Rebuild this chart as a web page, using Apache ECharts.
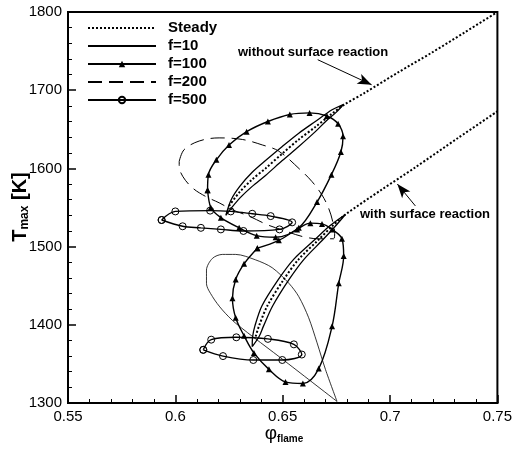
<!DOCTYPE html>
<html><head><meta charset="utf-8">
<script src="https://cdn.jsdelivr.net/npm/echarts@6/dist/echarts.min.js"></script>
<style>html,body{margin:0;padding:0;background:#fff}#c{width:515px;height:450px}</style>
</head><body><div id="c"></div>
<script>
const FONT = 'Liberation Sans, Arial, sans-serif';

// Axis ticks
const xTicks = [0.55, 0.6, 0.65, 0.7, 0.75];
const yTicks = [1300, 1400, 1500, 1600, 1700, 1800];

// Legend entries
const legendNames = ['Steady', 'f=10', 'f=100', 'f=200', 'f=500'];
const legendWithMarker = ['f=100', 'f=500'];

// Steady solutions [phi, Tmax]
const steadyWithout = [[0.6250,1552],[0.6297,1569],[0.6358,1586],[0.6420,1600],[0.6498,1619],[0.6575,1637],[0.6652,1653],[0.6730,1670],[0.6784,1681],[0.6884,1697],[0.7039,1723],[0.7194,1748],[0.7348,1774],[0.7500,1800]];
const steadyWith = [[0.6374,1385],[0.6389,1398],[0.6428,1424],[0.6505,1458],[0.6575,1484],[0.6668,1509],[0.6730,1526],[0.6792,1541],[0.6962,1573],[0.7116,1601],[0.7317,1639],[0.7500,1673]];

// f=10 (narrow hysteresis loops)
const f10Without = [[0.6235,1540],[0.6260,1560],[0.6300,1577],[0.6358,1595],[0.6420,1610],[0.6498,1628],[0.6575,1645],[0.6652,1660],[0.6730,1675],[0.6784,1682],[0.6750,1672],[0.6700,1660],[0.6652,1647],[0.6575,1628],[0.6498,1610],[0.6420,1591],[0.6358,1577],[0.6300,1562],[0.6260,1549],[0.6235,1540]];
const f10With = [[0.6358,1372],[0.6360,1385],[0.6370,1398],[0.6403,1424],[0.6480,1458],[0.6552,1484],[0.6650,1509],[0.6717,1526],[0.6792,1541],[0.6745,1526],[0.6688,1509],[0.6600,1484],[0.6530,1458],[0.6453,1424],[0.6410,1398],[0.6390,1385],[0.6358,1372]];

// f=100
const f100Without = [[0.6150,1572],[0.6154,1592],[0.6191,1611],[0.6250,1630],[0.6332,1647],[0.6431,1660],[0.6533,1669],[0.6625,1671],[0.6706,1667],[0.6758,1657],[0.6781,1641],[0.6771,1621],[0.6727,1592],[0.6660,1557],[0.6575,1524],[0.6467,1512],[0.6379,1514],[0.6297,1524],[0.6212,1537],[0.6165,1550],[0.6150,1572]];
const f100With = [[0.6382,1498],[0.6482,1508],[0.6567,1522],[0.6629,1530],[0.6683,1529],[0.6730,1522],[0.6776,1510],[0.6784,1488],[0.6761,1453],[0.6730,1398],[0.6668,1344],[0.6594,1325],[0.6513,1327],[0.6436,1343],[0.6366,1364],[0.6320,1386],[0.6281,1409],[0.6266,1434],[0.6281,1458],[0.6320,1478],[0.6382,1498]];

// f=200
const f200Without = [[0.6018,1609],[0.6041,1624],[0.6111,1635],[0.6204,1639],[0.6312,1637],[0.6405,1630],[0.6482,1622],[0.6583,1598],[0.6637,1583],[0.6683,1566],[0.6714,1549],[0.6733,1532],[0.6742,1517],[0.6737,1510],[0.6668,1510],[0.6590,1513],[0.6513,1520],[0.6428,1528],[0.6343,1539],[0.6266,1547],[0.6204,1556],[0.6142,1564],[0.6080,1575],[0.6034,1590],[0.6018,1603],[0.6018,1609]];
const f200With = [[0.6753,1302],[0.6513,1353],[0.6281,1402],[0.6219,1419],[0.6173,1436],[0.6145,1453],[0.6145,1470],[0.6173,1485],[0.6219,1490],[0.6281,1490],[0.6374,1483],[0.6451,1473],[0.6529,1453],[0.6575,1436],[0.6621,1409],[0.6660,1377],[0.6699,1343],[0.6753,1302]];

// f=500
const f500Without = [[0.5936,1534],[0.6000,1545],[0.6162,1546],[0.6258,1545],[0.6358,1542],[0.6444,1539],[0.6544,1531],[0.6485,1522],[0.6317,1520],[0.6212,1522],[0.6119,1524],[0.6034,1526],[0.5936,1534]];
const f500With = [[0.6130,1368],[0.6167,1381],[0.6284,1384],[0.6431,1382],[0.6552,1375],[0.6589,1362],[0.6498,1355],[0.6363,1355],[0.6222,1360],[0.6130,1368]];

// Annotations
const annotWithout = {text: 'without surface reaction', from: [0.6663, 1739], to: [0.6914, 1707]};
const annotWith = {text: 'with surface reaction', from: [0.7118, 1552], to: [0.7034, 1580]};

const chart = echarts.init(document.getElementById('c'), null, {renderer: 'canvas'});

function lineSeries(name, data, extra) {
  return Object.assign({
    name: name, type: 'line', data: data, symbol: 'none', smooth: 0.35,
    animation: false, silent: true, clip: true,
    lineStyle: {color: '#000', width: 1.4},
    itemStyle: {color: '#000'}
  }, extra || {});
}

const triStyle = {symbol: 'triangle', symbolSize: 6, showSymbol: true, itemStyle: {color: '#000'}};
const circStyle = {symbol: 'circle', symbolSize: 7, showSymbol: true, itemStyle: {color: 'rgba(255,255,255,0)', borderColor: '#000', borderWidth: 1}};

const series = [
  lineSeries('Steady', steadyWithout, {lineStyle: {color: '#000', width: 2, type: [2, 2]}, smooth: 0.3,
    markLine: {silent: true, symbol: ['none', 'arrow'], symbolSize: [8, 14], label: {show: false},
      lineStyle: {color: '#000', width: 1, type: 'solid'}, animation: false,
      data: [
        [{coord: annotWithout.from}, {coord: annotWithout.to}],
        [{coord: annotWith.from}, {coord: annotWith.to}]
      ]}}),
  lineSeries('Steady', steadyWith, {lineStyle: {color: '#000', width: 2, type: [2, 2]}, smooth: 0.3}),
  lineSeries('f=10', f10Without, {lineStyle: {color: '#000', width: 1.3}, smooth: 0.3}),
  lineSeries('f=10', f10With, {lineStyle: {color: '#000', width: 1.3}, smooth: 0.3}),
  lineSeries('f=100', f100Without, Object.assign({lineStyle: {color: '#000', width: 1.4}}, triStyle)),
  lineSeries('f=100', f100With, Object.assign({lineStyle: {color: '#000', width: 1.4}}, triStyle)),
  lineSeries('f=200', f200Without, {lineStyle: {color: '#000', width: 1, type: [14, 7]}}),
  lineSeries('f=200', f200With, {lineStyle: {color: '#000', width: 0.8}, smooth: 0.3}),
  lineSeries('f=500', f500Without, Object.assign({lineStyle: {color: '#000', width: 1.4}}, circStyle)),
  lineSeries('f=500', f500With, Object.assign({lineStyle: {color: '#000', width: 1.4}}, circStyle))
];

const option = {
  backgroundColor: '#fff',
  animation: false,
  textStyle: {fontFamily: FONT},
  grid: {left: 68, right: 16, top: 12, bottom: 47, show: true, borderColor: '#000', borderWidth: 2, backgroundColor: 'transparent'},
  xAxis: {
    type: 'value', min: xTicks[0], max: xTicks[xTicks.length - 1], interval: xTicks[1] - xTicks[0],
    axisLine: {show: true, onZero: false, lineStyle: {color: '#000', width: 2}},
    axisTick: {show: true, inside: true, length: 8, lineStyle: {color: '#000', width: 1.5}},
    minorTick: {show: true, splitNumber: 5, length: 4, lineStyle: {color: '#000', width: 1}},
    splitLine: {show: false},
    axisLabel: {color: '#000', fontSize: 15, fontFamily: FONT, margin: 6,
      formatter: v => { const m = xTicks.find(t => Math.abs(t - v) < 1e-9); return m === undefined ? '' : String(m); }}
  },
  yAxis: {
    type: 'value', min: yTicks[0], max: yTicks[yTicks.length - 1], interval: yTicks[1] - yTicks[0],
    axisLine: {show: true, onZero: false, lineStyle: {color: '#000', width: 2}},
    axisTick: {show: true, inside: true, length: 8, lineStyle: {color: '#000', width: 1.5}},
    minorTick: {show: true, splitNumber: 5, length: 4, lineStyle: {color: '#000', width: 1}},
    splitLine: {show: false},
    axisLabel: {color: '#000', fontSize: 15, fontFamily: FONT, margin: 6, formatter: v => String(v)}
  },
  legend: {
    data: legendNames.map(n => legendWithMarker.indexOf(n) >= 0 ? {name: n} : {name: n, itemStyle: {opacity: 0}}),
    orient: 'vertical', left: 87, top: 19, padding: 0,
    itemWidth: 68, itemHeight: 8, itemGap: 0,
    textStyle: {color: '#000', fontSize: 15, fontWeight: 'bold', fontFamily: FONT, lineHeight: 18, padding: [0, 0, 0, 7]},
    selectedMode: false
  },
  graphic: [
    {type: 'text', left: 238, top: 46, silent: true,
      style: {text: annotWithout.text, font: 'bold 13px ' + FONT, fill: '#000'}},
    {type: 'text', left: 360, top: 208, silent: true,
      style: {text: annotWith.text, font: 'bold 13px ' + FONT, fill: '#000'}},
    {type: 'text', x: 20, y: 207, rotation: Math.PI / 2, silent: true,
      style: {text: '{a|T}{b|max}{a| [K]}', align: 'center', verticalAlign: 'middle', fill: '#000',
        rich: {a: {font: 'bold 20px ' + FONT, fill: '#000'}, b: {font: 'bold 12px ' + FONT, fill: '#000', padding: [10, 0, 0, 0]}}}},
    {type: 'text', x: 284, y: 434, silent: true,
      style: {text: '{p|\u03c6}{s|flame}', align: 'center', verticalAlign: 'middle', fill: '#000',
        rich: {p: {font: '19px ' + FONT, fill: '#000'}, s: {font: 'bold 10px ' + FONT, fill: '#000', padding: [11, 0, 0, 0]}}}}
  ],
  series: series
};
chart.setOption(option);
</script></body></html>
